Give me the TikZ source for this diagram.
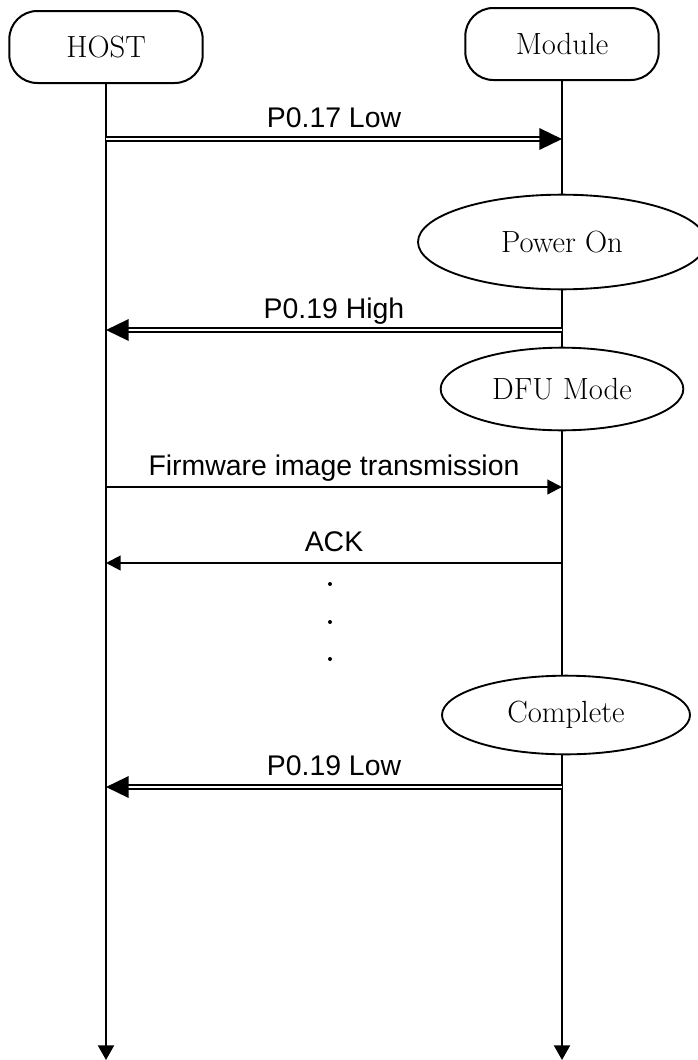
\documentclass[tikz,border=0pt]{standalone}
\usepackage{fontspec}
\setsansfont{Liberation Sans}
\usetikzlibrary{arrows.meta,shapes.geometric}
\tikzset{
  actor/.style={draw,line width=1.5pt,rounded corners=21pt,minimum width=145pt,minimum height=54pt,inner sep=0pt,font=\fontsize{23}{26}\selectfont},
  phase/.style={draw,ellipse,fill=white,line width=1.4pt,inner sep=0pt,font=\fontsize{23}{26}\selectfont},
  life/.style={line width=1.6pt,-{Triangle[length=11pt,width=12pt]}},
  msg/.style={line width=1.6pt,-{Triangle[length=11pt,width=11pt]}},
  sig/.style={double,line width=1.8pt,double distance=1.5pt,-{Triangle[length=17pt,width=16pt]}},
  lbl/.style={font=\sffamily\fontsize{21.3}{24}\selectfont,anchor=base,yshift=9pt,inner sep=0pt}
}
\begin{document}
\begin{tikzpicture}[x=0.75pt,y=-0.75pt]
\useasboundingbox (0,0) rectangle (697,1060);
% participants
\node[actor] (host) at (106,47) {HOST};
\node[actor] (module) at (562,44) {Module};
\coordinate (hostend) at (106,1060);
\coordinate (modend) at (562,1060);
\draw[life] (host.south) -- (hostend);
\draw[life] (module.south) -- (modend);
% states of the module
\node[phase, minimum width=216pt, minimum height=71pt] (power) at (562,242) {Power On};
\node[phase, minimum width=182pt, minimum height=62pt] (dfu) at (562,389) {DFU Mode};
\node[phase, minimum width=186pt, minimum height=59pt] (done) at (566,715) {Complete};
% message end points
\coordinate (h1) at (106,139);  \coordinate (m1) at (562,139);
\coordinate (h2) at (106,330);  \coordinate (m2) at (562,330);
\coordinate (h3) at (106,487);  \coordinate (m3) at (562,487);
\coordinate (h4) at (106,563);  \coordinate (m4) at (562,563);
\coordinate (h5) at (106,787);  \coordinate (m5) at (562,787);
% messages
\draw[sig] (h1) -- node[lbl] {P0.17 Low} (m1);
\draw[sig] (m2) -- node[lbl] {P0.19 High} (h2);
\draw[msg] (h3) -- node[lbl] {Firmware image transmission} (m3);
\draw[msg] (m4) -- node[lbl] {ACK} (h4);
\draw[sig] (m5) -- node[lbl] {P0.19 Low} (h5);
\foreach \y in {584,622,659}
  \fill (330,\y) circle (1.5pt);
\end{tikzpicture}
\end{document}
